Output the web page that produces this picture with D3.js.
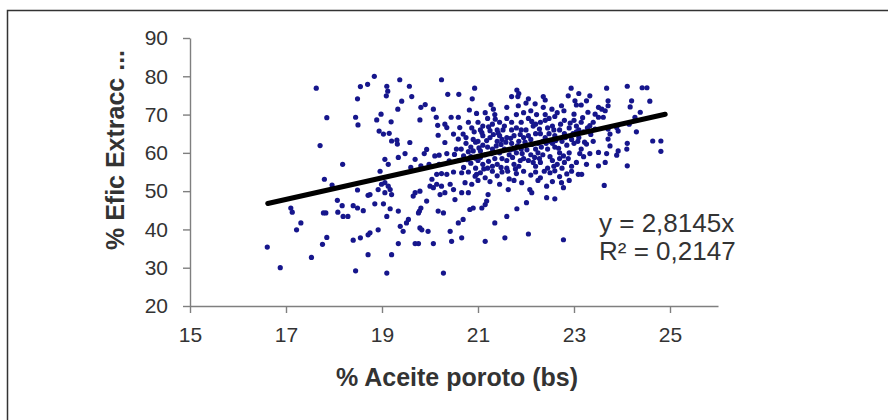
<!DOCTYPE html>
<html>
<head>
<meta charset="utf-8">
<script src="https://cdn.jsdelivr.net/npm/d3@7"></script>
<style>
  body { margin: 0; background: #fff; }
  .axis text { font-family: "Liberation Sans", Arial, sans-serif; font-size: 21px; fill: #333; }
  .axis path, .axis line { stroke: #7f7f7f; stroke-width: 1.4; }
</style>
</head>
<body>
<div id="chart"></div>
<script>
const w = 894;
const h = 420;

// tick labels
const xTicks = [15, 17, 19, 21, 23, 25];
const yTicks = [20, 30, 40, 50, 60, 70, 80, 90];

// linear trend (no intercept) as printed on the chart
const slope = 2.8145;
const trendX = [16.62, 24.9];
const equationLines = ["y = 2,8145x", "R² = 0,2147"];

// [% aceite poroto, % efic extracc]
const puntos = [
  // left, sparse
  [17.63,76.9],[18.55,77.3],[18.70,77.9],[18.49,74.1],[17.85,69.2],[18.45,69.3],[18.5,67.3],[17.71,61.9],[18.18,57.0],
  [17.8,53.1],[17.96,51.6],[18.49,50.3],[18.71,48.9],[18.07,47.6],[17.10,45.6],[17.13,44.5],[17.83,44.3],[17.78,44.3],
  [18.17,46.2],[18.08,44.5],[18.19,43.4],[18.29,43.4],[18.4,46.2],[18.49,45.6],[18.61,44.9],[17.31,41.7],[17.22,39.9],
  [17.85,37.9],[17.76,36.1],[18.4,37.2],[18.55,37.8],[18.71,38.6],[16.61,35.4],[17.53,32.7],[16.88,30],[18.45,29.2],[18.71,33.4],
  // 18.7 - 21, upper
  [18.84,80.0],[19.37,79.1],[20.24,79.1],[19.1,77.4],[19.12,76.1],[19.09,74.9],[19.57,77.4],[19.62,74.7],[20.37,75.3],
  [20.6,75.3],[20.93,76.9],[20.88,74.1],[19.41,73.5],[19.33,71.4],[19.9,72.6],[19.81,71.9],[20.07,71.4],[18.98,70.1],
  [18.89,68.6],[19.19,68.1],[19.79,68.6],[20.13,69.3],[20.16,67.2],[20.44,69.3],[20.59,69.3],[20.31,67.5],[20.35,66.6],
  [20.8,68],[20.87,66.5],[20.97,70.3],[18.94,65.7],[19.03,64.9],[19.15,65.1],[19.2,63.1],[19.32,62.3],[19.31,63.3],
  [19.58,62.7],[20.17,64.6],[20.31,62.7],[20.49,64.9],[20.59,63.6],[20.69,64.9],[20.75,62.5],[20.85,61.5],[20.95,62.8],
  [20.9,60.5],[20.8,60.3],[19.06,58.3],[19.13,57.0],[18.96,55.2],[19.34,58.8],[19.48,59.8],[19.69,58.3],[19.88,59.8],
  [19.93,60.9],[20.1,59.2],[20.19,59.4],[20.35,59.8],[20.51,59.6],[19.6,56.2],[19.81,56.6],[19.98,57],[20.19,57],[20.4,57.9],
  [20.6,58],[20.55,61],[20.7,56.2],[20.85,57.3],[20.95,58.6],[20.62,66.6],[20.82,71.2],[20.7,59.2],
  // 18.7 - 21, lower
  [18.75,49.1],[18.92,50.4],[18.99,51.8],[19.06,52.2],[19.13,51.3],[19.17,50.4],[19.06,49.6],[19.2,49.1],[18.85,46.7],
  [19.03,46.7],[19.17,45.4],[19.1,43.4],[19.34,44.8],[18.75,39.1],[18.92,39.9],[19.2,33.4],[19.1,28.6],[19.38,40.8],
  [19.44,39.5],[19.55,42.6],[19.51,41.7],[19.34,36.3],[19.69,36.3],[19.76,36.3],[20.07,36.3],[19.78,44.8],[19.76,44.3],
  [19.81,45.6],[19.79,40.4],[19.83,39.9],[19.96,39.5],[19.65,48.7],[19.69,49.6],[19.79,50],[19.93,47.4],[20.04,53.1],
  [20.0,51.3],[20.07,50.9],[20.14,51.8],[20.24,51.3],[20.21,49.1],[20.31,49.6],[20.42,51.8],[20.49,50.4],[20.52,47.8],
  [20.17,44.8],[20.28,44.3],[20.42,39.5],[20.45,36.9],[20.66,37.8],[20.28,28.6],[20.59,41.7],[20.69,42.6],[20.9,45.6],
  [20.83,45.2],[20.66,49.6],[20.8,49.6],[20.87,51.8],[20.73,52.2],[20.94,53.9],[20.14,54.4],[20.24,54.6],[20.35,54.4],
  [20.49,55],[20.66,54.8],[20.8,55],[20.97,54.4],
  // 21 - 23.3, lower
  [23.09,54.4],[23.16,54.4],[21.21,49.1],[21.18,47.4],[21.15,46.5],[21.08,45.6],[21.63,50.4],[21.91,52.2],[22.08,50.4],
  [22.12,49.6],[22.01,47],[21.81,45.4],[22.43,51.3],[22.43,48.3],[22.78,50.9],[22.74,52.2],[21.6,43.4],[21.35,41.7],
  [21.56,37.8],[21.15,36.9],[22.05,38.8],[22.78,37.3],
  [21.05,54.8],[21.15,53.5],[21.3,55.2],[21.4,54],[21.5,55],[21.65,53.2],[21.8,54.6],[21.95,55.2],[22.1,54.2],[22.2,55],
  [22.3,53.5],[22.5,54.8],[22.6,55.3],[22.7,53.8],[22.85,54.5],[22.95,55.2],
  [21.0,52.8],[21.25,52.5],[21.45,51.8],[21.75,52.8],[22.25,52.8],[22.55,52.5],[22.9,52.8],[22.6,48],
  // 21 - 23.3, upper
  [21.81,76.4],[22.94,76.9],[21.7,74.7],[21.83,74.7],[22.36,74.7],[22.4,73.8],[22.88,74.9],[23.02,73.6],[21.27,72.6],
  [21.32,71.4],[21.6,71.9],[21.84,72.3],[22.05,74.1],[22.19,72.8],[22.36,71.9],[22.54,71.4],[22.74,72.3],[22.79,71],
  [23.0,70.1],[23.29,70.6],[21.85,75.5],[23.1,75.5],[23.15,72.5],
  // dense core
  [21.0,68],[21.05,66],[21.1,64.5],[21.0,63],[21.1,62],[21.05,60.5],[21.15,59.5],[21.0,58],[21.1,57],[21.2,56],
  [21.35,70],[21.2,69],[21.3,67.5],[21.4,66],[21.25,64],[21.4,63],[21.3,61],[21.45,60],[21.35,58.5],[21.4,57],
  [21.45,68],[21.2,61.5],[21.1,67],[21.3,56.5],[21.45,64.5],[21.25,65.8],[21.15,70.5],
  [21.6,69],[21.55,67],[21.7,66],[21.6,64],[21.7,62.5],[21.55,61],[21.65,59.5],[21.6,58],[21.75,57],[21.6,56],
  [21.8,70],[21.9,68],[21.8,66.5],[21.95,64],[21.85,63],[21.9,61],[21.8,60],[21.95,58.5],[21.85,56.5],[21.7,68],
  [21.75,64.5],[21.9,66],[21.75,61],[21.95,70.5],[21.5,63.5],[21.5,58.5],
  [22.1,71],[22.05,69],[22.15,67],[22.0,66],[22.2,65],[22.1,63.5],[22.0,62],[22.2,61],[22.1,59.5],[22.05,58],
  [22.2,56.5],[22.4,70],[22.3,68],[22.45,66.5],[22.3,65],[22.4,64],[22.25,62.5],[22.45,61],[22.35,59.5],[22.3,57.5],
  [22.45,56],[22.2,67.5],[22.25,60],[22.4,68.5],[22.15,57.5],[22.35,63],[22.05,64.5],[22.0,73],
  [22.6,69.5],[22.55,67],[22.7,66],[22.6,64.5],[22.75,63],[22.6,61.5],[22.7,60],[22.55,58],[22.65,57],[22.75,56],
  [22.8,68.5],[22.8,65],[22.95,63.5],[22.85,62],[22.9,60],[22.8,57.5],[22.95,56.5],[22.65,70.5],[22.55,62.5],
  [22.9,66.5],[22.7,58.5],[22.5,63],[22.5,59],
  [23.05,72.5],[23.0,68.5],[23.15,68],[23.05,67],[23.2,65.5],[23.1,64],[23.0,62.5],[23.15,61],[23.05,57.5],
  [23.2,59],[23.1,66],[23.05,65.5],
  [20.75,64],[20.9,63.5],[20.65,61],[20.85,59],[20.95,56],[21.05,58.8],[21.12,55.8],[21.22,57.8],[21.28,59.8],[21.38,61.8],
  [21.48,62.2],[21.18,63.2],[21.32,64.8],[21.42,65.2],[21.08,65.3],[21.22,66.8],[21.36,68.8],[21.52,66],[21.58,62.8],
  [21.68,60.8],[21.72,58.8],[21.62,55.2],[21.78,55.8],[21.88,58],[21.92,59.8],[21.82,61.8],[21.88,64.8],[21.68,63.8],
  [21.98,62.8],[22.02,60.8],[22.12,62.2],[22.18,58.8],[22.28,58.5],[22.32,61.5],[22.42,62.5],[22.48,65],[22.28,66.2],
  [22.12,68.2],[22.22,70],[22.48,69],[22.58,66],[22.62,63.2],[22.68,61.2],[22.78,59.2],[22.88,58.5],[22.82,64],
  [22.92,67.8],[22.72,67.5],[22.98,65],[23.08,63],[23.12,59.8],[23.22,62.8],[23.28,66.5],[23.18,69.2],[22.58,56.5],
  [22.38,55.2],[21.48,56.2],[21.02,61.3],[20.92,65.5],[20.78,58.2],
  // right side
  [23.33,74.9],[23.26,73.6],[23.51,71.9],[23.58,71.4],[23.71,72.3],[23.65,71],[23.44,70.1],[23.51,69.3],[23.61,69.3],
  [23.4,68],[23.33,67.1],[23.44,66.2],[23.71,66.2],[23.75,64.9],[23.71,63.6],[23.89,66.6],[23.92,65.7],[24.38,70.6],
  [24.27,69.3],[23.26,62.3],[23.51,60.1],[23.68,59.8],[23.92,60.5],[23.75,61.8],[23.89,59.4],[23.33,59.8],[23.26,57],
  [23.51,56.6],[23.65,57.5],[23.63,51.5],[23.4,63],[23.35,64.8],
  [23.68,76.9],[24.11,77.4],[24.42,77],[24.52,77],[23.71,73.6],[24.2,73.6],[24.58,73.5],[24.17,72],[24.64,63.1],
  [24.81,63.1],[24.81,60.4],[24.11,62.5],[24.11,56.6],[24.1,61],[24.15,67.5],[24.3,65.5]
];

const svg = d3
  .select("#chart")
  .append("svg")
  .attr("width", w)
  .attr("height", h);

// picture frame (left and top edges only)
svg
  .append("path")
  .attr("d", "M7.5,420V10.5H888")
  .attr("fill", "none")
  .attr("stroke", "#333")
  .attr("stroke-width", 1.5);

const xScale = d3.scaleLinear().domain([15, 26]).range([190, 718]);
const yScale = d3.scaleLinear().domain([20, 90]).range([306, 38]);

const xAxis = d3
  .axisBottom(xScale)
  .tickValues(xTicks)
  .tickSize(7)
  .tickSizeOuter(0)
  .tickPadding(14);

const yAxis = d3
  .axisLeft(yScale)
  .tickValues(yTicks)
  .tickSize(7)
  .tickSizeOuter(0)
  .tickPadding(15);

svg
  .append("g")
  .attr("class", "axis")
  .attr("transform", `translate(0, ${yScale(20)})`)
  .call(xAxis);

svg
  .append("g")
  .attr("class", "axis")
  .attr("transform", `translate(${xScale(15)}, 0)`)
  .call(yAxis);

// points
svg
  .append("g")
  .selectAll("circle")
  .data(puntos)
  .enter()
  .append("circle")
  .attr("cx", (d) => xScale(d[0]))
  .attr("cy", (d) => yScale(d[1]))
  .attr("r", 2.6)
  .attr("fill", "#16168c");

// trend line
svg
  .append("path")
  .datum(trendX)
  .attr("fill", "none")
  .attr("stroke", "#000")
  .attr("stroke-width", 5)
  .attr("stroke-linecap", "round")
  .attr(
    "d",
    d3
      .line()
      .x((d) => xScale(d))
      .y((d) => yScale(slope * d))
  );

// equation
svg
  .append("g")
  .selectAll("text")
  .data(equationLines)
  .enter()
  .append("text")
  .attr("x", 599)
  .attr("y", (d, i) => 232 + i * 28)
  .style("font-family", '"Liberation Sans", Arial, sans-serif')
  .style("font-size", "26px")
  .style("fill", "#333")
  .text((d) => d);

// axis titles
svg
  .append("text")
  .attr("transform", "translate(124, 150) rotate(-90)")
  .attr("text-anchor", "middle")
  .style("font-family", '"Liberation Sans", Arial, sans-serif')
  .style("font-size", "25px")
  .style("font-weight", "bold")
  .style("fill", "#333")
  .text("% Efic Extracc ...");

svg
  .append("text")
  .attr("x", 457)
  .attr("y", 386)
  .attr("text-anchor", "middle")
  .style("font-family", '"Liberation Sans", Arial, sans-serif')
  .style("font-size", "25px")
  .style("font-weight", "bold")
  .style("fill", "#333")
  .text("% Aceite poroto (bs)");
</script>
</body>
</html>
